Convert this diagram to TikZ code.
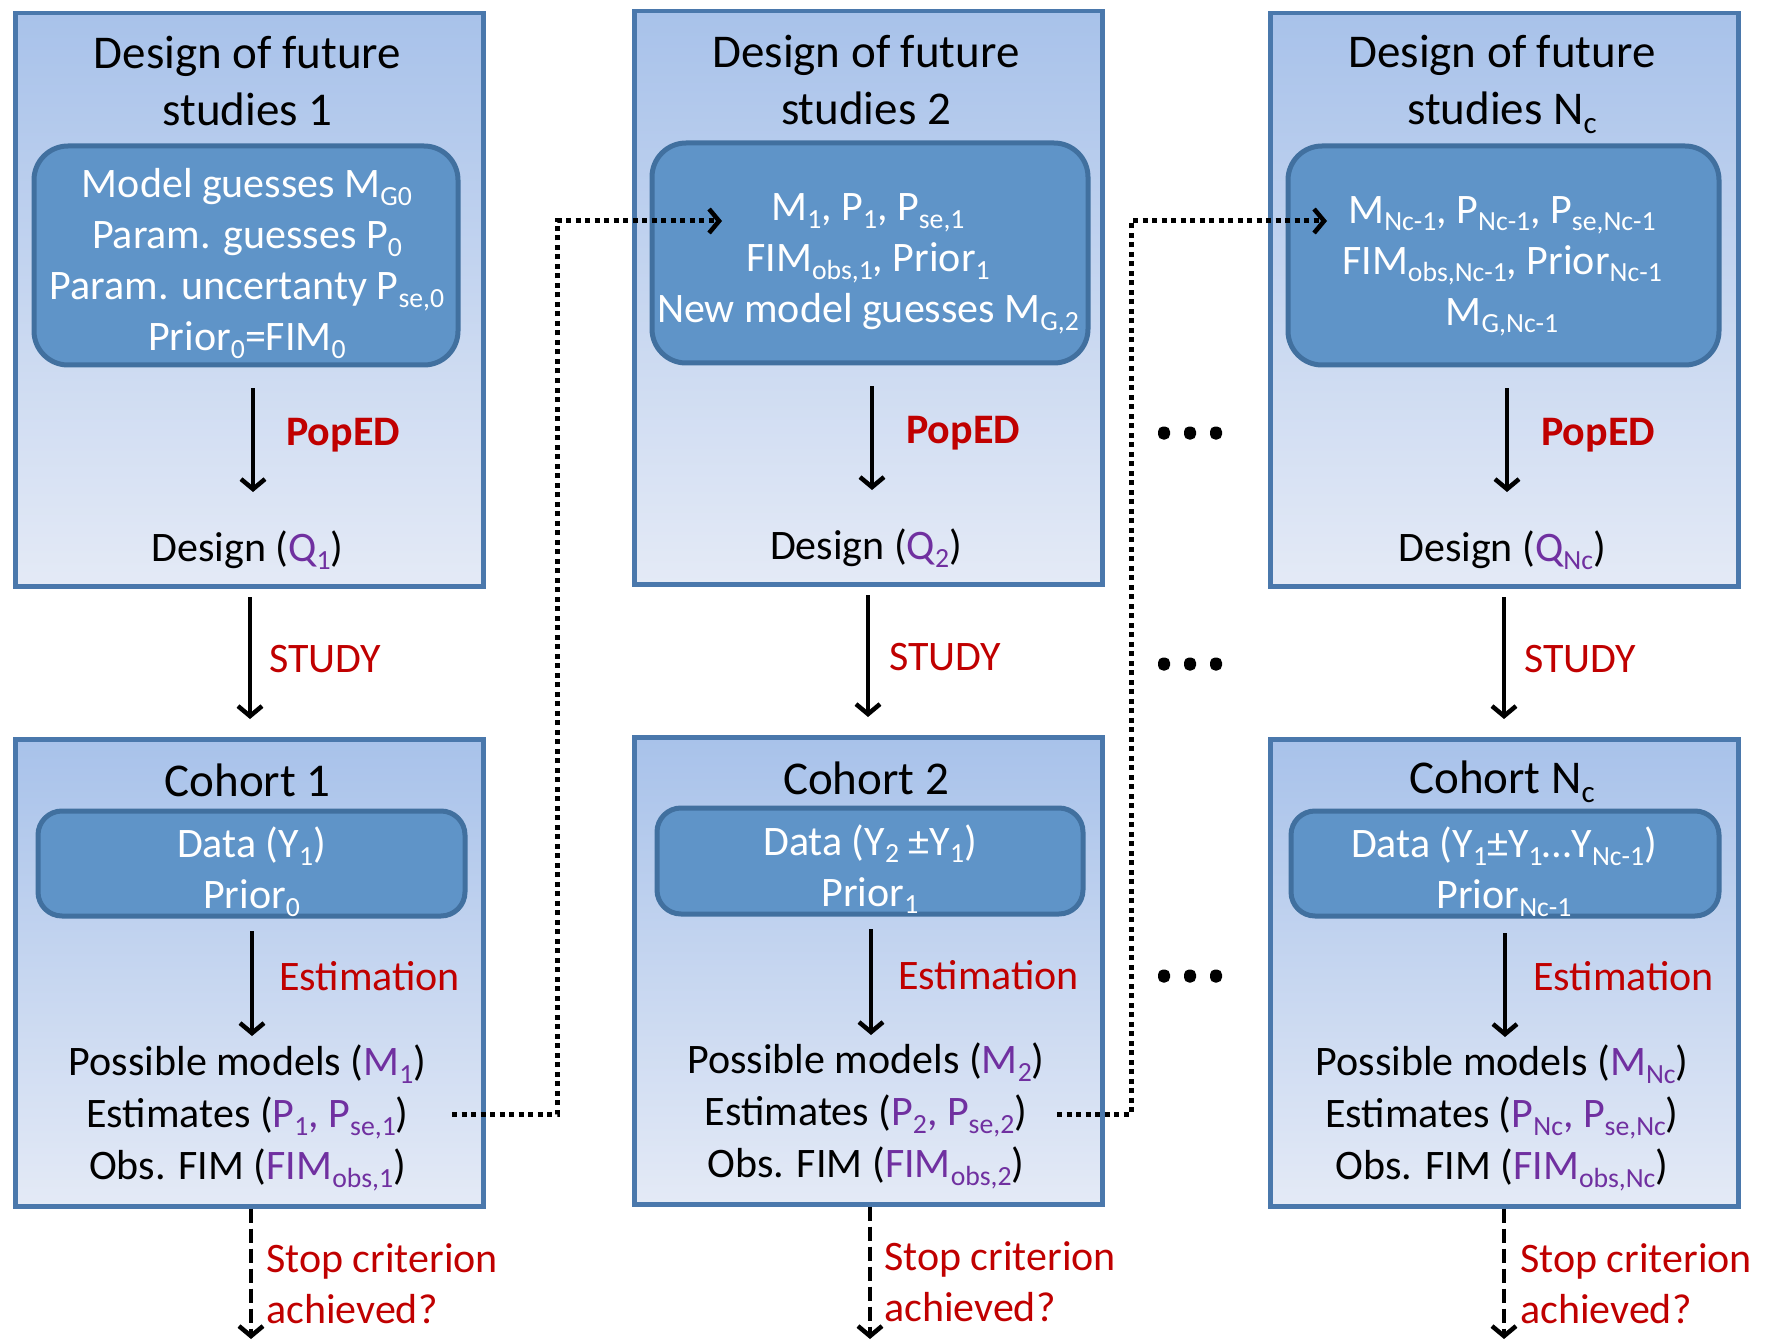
\documentclass[tikz,border=0pt]{standalone}
\usepackage{fontspec}
\setmainfont{Carlito}
\usetikzlibrary{arrows.meta,shadings}
\definecolor{obord}{HTML}{4A78AC}
\definecolor{otop}{HTML}{A8C2EA}
\definecolor{obot}{HTML}{E4EAF6}
\definecolor{ifill}{HTML}{5F94C8}
\definecolor{ibord}{HTML}{41709F}
\definecolor{lred}{HTML}{C00000}
\definecolor{pur}{HTML}{7030A0}
\makeatletter
\newcommand{\sbs}[1]{\raisebox{-0.18em}{\fontsize{\fpeval{0.66*\f@size}}{0}\selectfont #1}}
\makeatother
\newcommand{\ttlf}{\fontsize{47}{57}\selectfont}
\newcommand{\bdyf}{\fontsize{42}{51}\selectfont}
\newcommand{\resf}{\fontsize{42}{52}\selectfont}
\newcommand{\pu}[1]{{\color{pur}#1}}
\begin{document}
\begin{tikzpicture}[x=1pt,y=-1pt,
 outerbox/.style={draw=obord, line width=4.5pt, top color=otop, bottom color=obot, minimum width=468pt, minimum height=573pt, anchor=north west, inner sep=0pt},
 cohortbox/.style={outerbox, minimum height=467pt},
 innerbox/.style={draw=ibord, line width=5pt, fill=ifill, rounded corners=34pt, inner sep=0pt},
 smallinner/.style={innerbox, rounded corners=24pt},
 intext/.style={text=white, font=\bdyf, align=center, inner sep=0pt},
 ttl/.style={font=\ttlf, align=center, inner sep=0pt},
 bdy/.style={font=\bdyf, align=center, inner sep=0pt},
 res/.style={font=\resf, align=center, inner sep=0pt},
 lbl/.style={font=\bdyf, text=lred, anchor=west, inner sep=0pt},
 stoplbl/.style={lbl, align=left},
 tip/.style={-{Straight Barb[length=10pt,width=24pt,line width=4.5pt]}},
 arr/.style={line width=4.5pt, tip},
 dotconn/.style={line width=5pt, dash pattern=on 5pt off 4.5pt, tip},
 stopconn/.style={line width=4.8pt, dash pattern=on 14pt off 6pt, tip}
]
\useasboundingbox (0,0) rectangle (1773,1340);

% ---------- column 1 ----------
\node[outerbox] (d1) at (13,11) {};
\node[ttl] (d1t) at (247.5,81.5) {Design of future\\studies 1};
\node[innerbox, minimum width=424pt, minimum height=219pt] (i1) at (246,255.5) {};
\node[intext] (i1t) at (247,263.5)
 {Model guesses M\sbs{G0}\\Param. guesses P\sbs{0}\\Param. uncertanty P\sbs{se,0}\\Prior\sbs{0}=FIM\sbs{0}};
\coordinate (a1s) at (253,388); \coordinate (a1e) at (253,492);
\draw[arr] (a1s) -- (a1e);
\node[lbl, font=\bdyf\bfseries] (p1) at (286,435) {PopED};
\node[bdy] (q1) at (247.5,550) {Design (\pu{Q\sbs{1}})};
\coordinate (s1s) at (250,597); \coordinate (s1e) at (250,719);
\draw[arr] (s1s) -- (s1e);
\node[lbl] (st1) at (269,659) {STUDY};
\node[cohortbox] (c1) at (13,737) {};
\node[ttl] (c1t) at (247.5,780) {Cohort 1};
\node[smallinner, minimum width=427pt, minimum height=105pt] (j1) at (251.5,863.5) {};
\node[intext] (j1t) at (251.5,871.5) {Data (Y\sbs{1})\\Prior\sbs{0}};
\coordinate (e1s) at (252,931); \coordinate (e1e) at (252,1036);
\draw[arr] (e1s) -- (e1e);
\node[lbl] (es1) at (279,976) {Estimation};
\node[res] (r1) at (247.5,1118)
 {Possible models (\pu{M\sbs{1}})\\Estimates (\pu{P\sbs{1}, P\sbs{se,1}})\\Obs. FIM (\pu{FIM\sbs{obs,1}})};
\coordinate (t1e) at (251,1339);
\draw[stopconn] (c1.south -| t1e) -- (t1e);
\node[stoplbl] (sc1) at (266,1284) {Stop criterion\\achieved?};

% ---------- column 2 ----------
\node[outerbox] (d2) at (632,9) {};
\node[ttl] (d2t) at (866,80) {Design of future\\studies 2};
\node[innerbox, minimum width=436pt, minimum height=220pt] (i2) at (870,253) {};
\node[intext] (i2t) at (868,264)
 {M\sbs{1}, P\sbs{1}, P\sbs{se,1}\\FIM\sbs{obs,1}, Prior\sbs{1}\\New model guesses M\sbs{G,2}};
\coordinate (a2s) at (872,386); \coordinate (a2e) at (872,490);
\draw[arr] (a2s) -- (a2e);
\node[lbl, font=\bdyf\bfseries] (p2) at (906,433) {PopED};
\node[bdy] (q2) at (866,548) {Design (\pu{Q\sbs{2}})};
\coordinate (s2s) at (868,595); \coordinate (s2e) at (868,717);
\draw[arr] (s2s) -- (s2e);
\node[lbl] (st2) at (889,657) {STUDY};
\node[cohortbox] (c2) at (632,735) {};
\node[ttl] (c2t) at (866,778) {Cohort 2};
\node[smallinner, minimum width=426pt, minimum height=106pt] (j2) at (870,861) {};
\node[intext] (j2t) at (870,869) {Data (Y\sbs{2} ±Y\sbs{1})\\Prior\sbs{1}};
\coordinate (e2s) at (871,929); \coordinate (e2e) at (871,1035);
\draw[arr] (e2s) -- (e2e);
\node[lbl] (es2) at (898,975) {Estimation};
\node[res] (r2) at (866,1116)
 {Possible models (\pu{M\sbs{2}})\\Estimates (\pu{P\sbs{2}, P\sbs{se,2}})\\Obs. FIM (\pu{FIM\sbs{obs,2}})};
\coordinate (t2e) at (870,1339);
\draw[stopconn] (c2.south -| t2e) -- (t2e);
\node[stoplbl] (sc2) at (884,1282) {Stop criterion\\achieved?};

% ---------- column 3 ----------
\node[outerbox] (d3) at (1268,11) {};
\node[ttl] (d3t) at (1502,84.5) {Design of future\\studies N\sbs{c}};
\node[innerbox, minimum width=431pt, minimum height=219pt] (i3) at (1503.5,255.5) {};
\node[intext] (i3t) at (1502,266.5)
 {M\sbs{Nc-1}, P\sbs{Nc-1}, P\sbs{se,Nc-1}\\FIM\sbs{obs,Nc-1}, Prior\sbs{Nc-1}\\M\sbs{G,Nc-1}};
\coordinate (a3s) at (1507,388); \coordinate (a3e) at (1507,492);
\draw[arr] (a3s) -- (a3e);
\node[lbl, font=\bdyf\bfseries] (p3) at (1541,435) {PopED};
\node[bdy] (q3) at (1502,550) {Design (\pu{Q\sbs{Nc}})};
\coordinate (s3s) at (1504,597); \coordinate (s3e) at (1504,719);
\draw[arr] (s3s) -- (s3e);
\node[lbl] (st3) at (1524,659) {STUDY};
\node[cohortbox] (c3) at (1268,737) {};
\node[ttl] (c3t) at (1502,782) {Cohort N\sbs{c}};
\node[smallinner, minimum width=428pt, minimum height=105pt] (j3) at (1505,863.5) {};
\node[intext] (j3t) at (1504,871.5) {Data (Y\sbs{1}±Y\sbs{1}…Y\sbs{Nc-1})\\Prior\sbs{Nc-1}};
\coordinate (e3s) at (1505,933); \coordinate (e3e) at (1505,1037);
\draw[arr] (e3s) -- (e3e);
\node[lbl] (es3) at (1533,976) {Estimation};
\node[res] (r3) at (1502,1118)
 {Possible models (\pu{M\sbs{Nc}})\\Estimates (\pu{P\sbs{Nc}, P\sbs{se,Nc}})\\Obs. FIM (\pu{FIM\sbs{obs,Nc}})};
\coordinate (t3e) at (1504,1339);
\draw[stopconn] (c3.south -| t3e) -- (t3e);
\node[stoplbl] (sc3) at (1520,1284) {Stop criterion\\achieved?};

% ---------- dotted connectors ----------
\coordinate (k1s) at (452,1114); \coordinate (k1e) at (722,221);
\draw[dotconn] (k1s) -- (557,1114) -- (557,221) -- (k1e);
\coordinate (k2s) at (1057,1114); \coordinate (k2e) at (1327,221);
\draw[dotconn] (k2s) -- (1131,1114) -- (1131,221) -- (k2e);

% ---------- ellipsis dots ----------
\foreach \yy in {433,664,976}{
  \foreach \xx in {1164,1190,1216}{
    \fill[rounded corners=5pt] (\xx-6,\yy-6.5) rectangle (\xx+6,\yy+6.5);
  }
}
\end{tikzpicture}
\end{document}
